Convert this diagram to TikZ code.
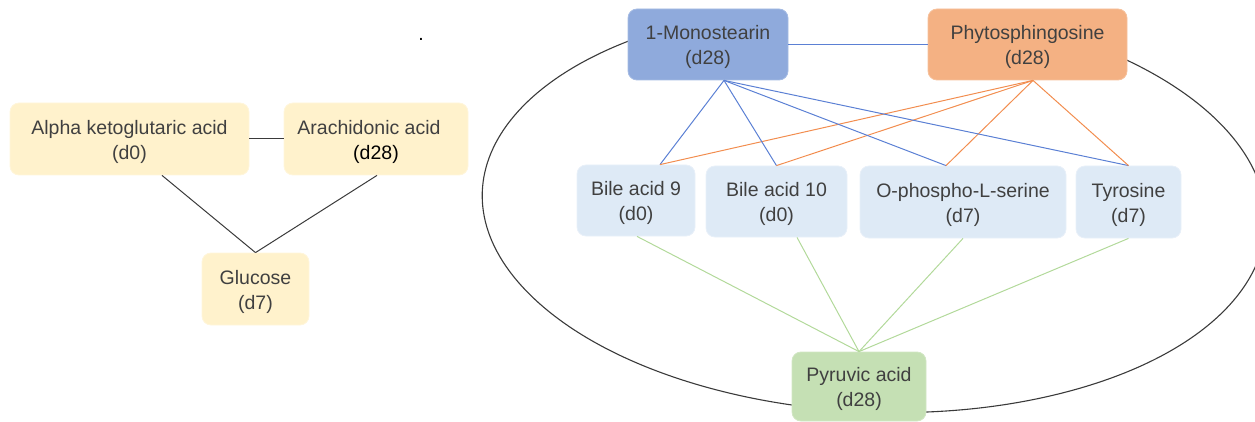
\documentclass[tikz,border=0pt]{standalone}
\usepackage{fontspec}
\setmainfont{Liberation Sans}
\definecolor{txt}{HTML}{404040}
\definecolor{yelF}{HTML}{FFF2CC}
\definecolor{bluF}{HTML}{DEEAF6}
\definecolor{monF}{HTML}{8FAADC}
\definecolor{phyF}{HTML}{F4B183}
\definecolor{pyrF}{HTML}{C5E0B4}
\definecolor{kcol}{HTML}{3A3A3A}
\definecolor{bcol}{HTML}{5B80D4}
\definecolor{ocol}{HTML}{F28D4F}
\definecolor{gcol}{HTML}{B2D99A}
\newcommand{\topst}{\rule{0pt}{20pt}}
\begin{document}
\begin{tikzpicture}[x=1pt,y=1pt,
  box/.style={rounded corners=9pt, inner sep=0pt, align=center, text=txt,
    font=\fontsize{19.5}{25}\selectfont, line width=0.8pt},
  yelbox/.style={box, fill=yelF, draw=yelF!70!white},
  blubox/.style={box, fill=bluF, draw=bluF!70!white},
  monbox/.style={box, fill=monF, draw=monF!80!white},
  phybox/.style={box, fill=phyF, draw=phyF!80!white},
  pyrbox/.style={box, fill=pyrF, draw=pyrF!80!white},
  kline/.style={draw=kcol, line width=1pt},
  bline/.style={draw=bcol, line width=1pt},
  oline/.style={draw=ocol, line width=1pt},
  gline/.style={draw=gcol, line width=1pt},
  ellline/.style={draw=kcol, line width=1.1pt}]
\useasboundingbox (0,0) rectangle (1255,-422);
\clip (0,0) rectangle (1255,-422);

% enclosing curve
\begin{scope}[shift={(874,-208)},rotate=-2.5]
  \draw[ellline] (120:392pt and 204pt) arc[start angle=120,end angle=420,x radius=392pt,y radius=204pt];
\end{scope}

% left group
\node[yelbox, minimum width=239pt, minimum height=72pt] (alpha) at (129.5,-139) {\topst Alpha ketoglutaric acid\\(d0)};
\node[yelbox, minimum width=184pt, minimum height=72pt] (arach) at (376,-139) {\topst Arachidonic acid\rule{14pt}{0pt}\\{\color{black}(d28)}};
\node[yelbox, minimum width=107pt, minimum height=72pt] (gluc) at (255.5,-289) {\topst Glucose\\(d7)};

\node[anchor=base, inner sep=0pt, text=black, font=\fontsize{19.5}{25}\selectfont] (dot) at (421,-40.5) {.};

% right group
\node[monbox, minimum width=160pt, minimum height=71pt] (mono) at (708,-44.5) {\topst 1-Monostearin\\(d28)};
\node[phybox, minimum width=199pt, minimum height=71pt] (phyto) at (1027.5,-44.5) {\topst Phytosphingosine\\(d28)};

\node[blubox, minimum width=118pt, minimum height=71pt] (b9) at (636,-200.5) {\topst Bile acid 9\\(d0)};
\node[blubox, minimum width=141pt, minimum height=71pt] (b10) at (776.5,-201.5) {\topst Bile acid 10\\(d0)};
\node[blubox, minimum width=206pt, minimum height=72pt] (ops) at (963,-202) {\topst O-phospho-L-serine\\(d7)};
\node[blubox, minimum width=105pt, minimum height=72pt] (tyr) at (1128.5,-202) {\topst Tyrosine\\(d7)};

\node[pyrbox, minimum width=134pt, minimum height=69pt] (pyr) at (859,-386.5) {\topst Pyruvic acid\\(d28)};

% left connectors
\draw[kline] (alpha.east) -- (arach.west);
\draw[kline] ([xshift=32.5pt]alpha.south) -- (gluc.north);
\draw[kline] ([xshift=1pt]arach.south) -- (gluc.north);

% top connectors
\draw[bline] (mono.east) -- (phyto.west);
\coordinate (mapex) at ([xshift=16pt]mono.south);
\coordinate (papex) at ([xshift=5.5pt]phyto.south);
\coordinate (t9) at ([xshift=24pt]b9.north);
\coordinate (t10) at (b10.north);
\coordinate (tops) at ([xshift=-17pt]ops.north);
\coordinate (ttyr) at (tyr.north);
\foreach \t in {t9,t10,tops,ttyr} {
  \draw[bline] (mapex) -- (\t);
  \draw[oline] (papex) -- (\t);
}

% bottom connectors
\draw[gline] ([xshift=1pt]b9.south) -- (pyr.north);
\draw[gline] ([xshift=20.5pt]b10.south) -- (pyr.north);
\draw[gline] (ops.south) -- (pyr.north);
\draw[gline] (tyr.south) -- (pyr.north);
\end{tikzpicture}
\end{document}
